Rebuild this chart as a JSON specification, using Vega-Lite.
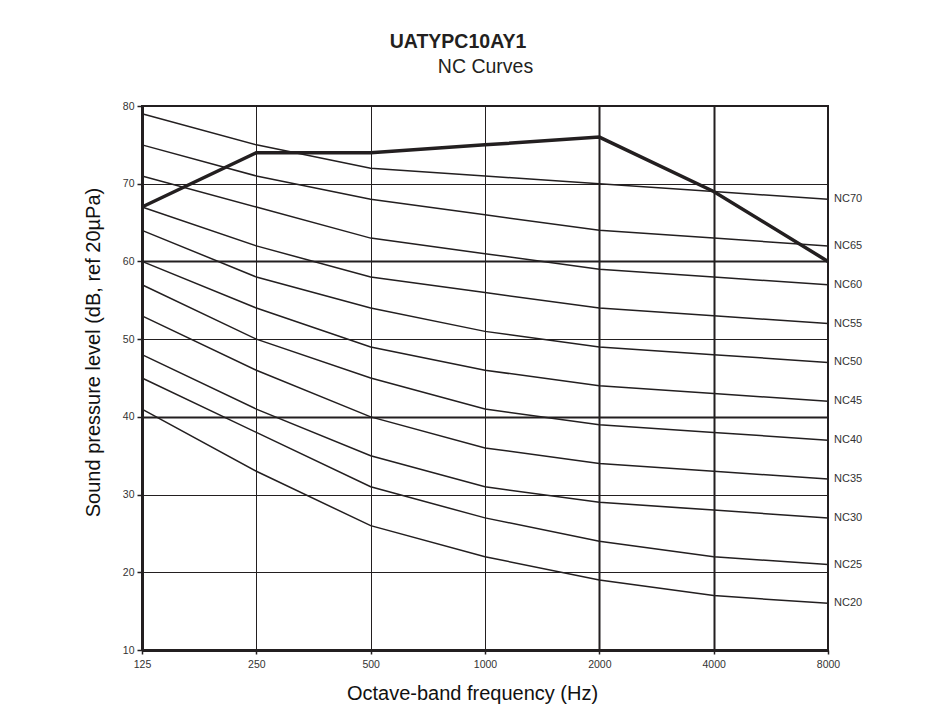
{
  "$schema": "https://vega.github.io/schema/vega-lite/v6.json",
  "width": 686,
  "height": 544,
  "autosize": "none",
  "padding": {"left": 142, "top": 106, "right": 101, "bottom": 72},
  "background": "white",
  "config": {
    "font": "Liberation Sans",
    "view": {"stroke": "#231f20", "strokeWidth": 2}
  },
  "title": {
    "text": "UATYPC10AY1",
    "anchor": "middle",
    "frame": "group",
    "dx": -27,
    "font": "Liberation Sans",
    "fontSize": 19.5,
    "fontWeight": "bold",
    "color": "#231f20",
    "offset": 4
  },
  "resolve": {"axis": {"x": "independent"}},
  "datasets": {
    "nc": [
      {"curve": "NC70", "freq": 125, "spl": 79}, {"curve": "NC70", "freq": 250, "spl": 75}, {"curve": "NC70", "freq": 500, "spl": 72}, {"curve": "NC70", "freq": 1000, "spl": 71}, {"curve": "NC70", "freq": 2000, "spl": 70}, {"curve": "NC70", "freq": 4000, "spl": 69}, {"curve": "NC70", "freq": 8000, "spl": 68},
      {"curve": "NC65", "freq": 125, "spl": 75}, {"curve": "NC65", "freq": 250, "spl": 71}, {"curve": "NC65", "freq": 500, "spl": 68}, {"curve": "NC65", "freq": 1000, "spl": 66}, {"curve": "NC65", "freq": 2000, "spl": 64}, {"curve": "NC65", "freq": 4000, "spl": 63}, {"curve": "NC65", "freq": 8000, "spl": 62},
      {"curve": "NC60", "freq": 125, "spl": 71}, {"curve": "NC60", "freq": 250, "spl": 67}, {"curve": "NC60", "freq": 500, "spl": 63}, {"curve": "NC60", "freq": 1000, "spl": 61}, {"curve": "NC60", "freq": 2000, "spl": 59}, {"curve": "NC60", "freq": 4000, "spl": 58}, {"curve": "NC60", "freq": 8000, "spl": 57},
      {"curve": "NC55", "freq": 125, "spl": 67}, {"curve": "NC55", "freq": 250, "spl": 62}, {"curve": "NC55", "freq": 500, "spl": 58}, {"curve": "NC55", "freq": 1000, "spl": 56}, {"curve": "NC55", "freq": 2000, "spl": 54}, {"curve": "NC55", "freq": 4000, "spl": 53}, {"curve": "NC55", "freq": 8000, "spl": 52},
      {"curve": "NC50", "freq": 125, "spl": 64}, {"curve": "NC50", "freq": 250, "spl": 58}, {"curve": "NC50", "freq": 500, "spl": 54}, {"curve": "NC50", "freq": 1000, "spl": 51}, {"curve": "NC50", "freq": 2000, "spl": 49}, {"curve": "NC50", "freq": 4000, "spl": 48}, {"curve": "NC50", "freq": 8000, "spl": 47},
      {"curve": "NC45", "freq": 125, "spl": 60}, {"curve": "NC45", "freq": 250, "spl": 54}, {"curve": "NC45", "freq": 500, "spl": 49}, {"curve": "NC45", "freq": 1000, "spl": 46}, {"curve": "NC45", "freq": 2000, "spl": 44}, {"curve": "NC45", "freq": 4000, "spl": 43}, {"curve": "NC45", "freq": 8000, "spl": 42},
      {"curve": "NC40", "freq": 125, "spl": 57}, {"curve": "NC40", "freq": 250, "spl": 50}, {"curve": "NC40", "freq": 500, "spl": 45}, {"curve": "NC40", "freq": 1000, "spl": 41}, {"curve": "NC40", "freq": 2000, "spl": 39}, {"curve": "NC40", "freq": 4000, "spl": 38}, {"curve": "NC40", "freq": 8000, "spl": 37},
      {"curve": "NC35", "freq": 125, "spl": 53}, {"curve": "NC35", "freq": 250, "spl": 46}, {"curve": "NC35", "freq": 500, "spl": 40}, {"curve": "NC35", "freq": 1000, "spl": 36}, {"curve": "NC35", "freq": 2000, "spl": 34}, {"curve": "NC35", "freq": 4000, "spl": 33}, {"curve": "NC35", "freq": 8000, "spl": 32},
      {"curve": "NC30", "freq": 125, "spl": 48}, {"curve": "NC30", "freq": 250, "spl": 41}, {"curve": "NC30", "freq": 500, "spl": 35}, {"curve": "NC30", "freq": 1000, "spl": 31}, {"curve": "NC30", "freq": 2000, "spl": 29}, {"curve": "NC30", "freq": 4000, "spl": 28}, {"curve": "NC30", "freq": 8000, "spl": 27},
      {"curve": "NC25", "freq": 125, "spl": 45}, {"curve": "NC25", "freq": 250, "spl": 38}, {"curve": "NC25", "freq": 500, "spl": 31}, {"curve": "NC25", "freq": 1000, "spl": 27}, {"curve": "NC25", "freq": 2000, "spl": 24}, {"curve": "NC25", "freq": 4000, "spl": 22}, {"curve": "NC25", "freq": 8000, "spl": 21},
      {"curve": "NC20", "freq": 125, "spl": 41}, {"curve": "NC20", "freq": 250, "spl": 33}, {"curve": "NC20", "freq": 500, "spl": 26}, {"curve": "NC20", "freq": 1000, "spl": 22}, {"curve": "NC20", "freq": 2000, "spl": 19}, {"curve": "NC20", "freq": 4000, "spl": 17}, {"curve": "NC20", "freq": 8000, "spl": 16}
    ],
    "measured": [
      {"freq": 125, "spl": 67}, {"freq": 250, "spl": 74}, {"freq": 500, "spl": 74}, {"freq": 1000, "spl": 75}, {"freq": 2000, "spl": 76}, {"freq": 4000, "spl": 69}, {"freq": 8000, "spl": 60}
    ]
  },
  "layer": [
    {
      "data": {"name": "nc"},
      "mark": {"type": "line", "strokeWidth": 1.5, "color": "#231f20"},
      "encoding": {
        "x": {
          "field": "freq", "type": "quantitative",
          "scale": {"type": "log", "base": 2, "domain": [125, 8000], "nice": false},
          "axis": {
            "values": [125, 250, 500, 1000, 2000, 4000, 8000],
            "format": "d",
            "grid": true,
            "gridColor": "#231f20",
            "gridOpacity": 1,
            "gridWidth": {"condition": {"test": "datum.value == 2000 || datum.value == 4000", "value": 2}, "value": 1},
            "domainColor": "#231f20",
            "domainWidth": 3,
            "tickColor": "#231f20",
            "tickWidth": 1.5,
            "tickSize": 4,
            "labelFontSize": 10.5,
            "labelColor": "#333333",
            "labelPadding": 5,
            "labelFlush": false,
            "title": "Octave-band frequency (Hz)",
            "titleFontSize": 20,
            "titleFontWeight": "normal",
            "titleColor": "#111111",
            "titlePadding": 14,
            "titleX": 330
          }
        },
        "y": {
          "field": "spl", "type": "quantitative",
          "scale": {"domain": [10, 80], "nice": false, "zero": false},
          "axis": {
            "values": [10, 20, 30, 40, 50, 60, 70, 80],
            "grid": true,
            "gridColor": "#231f20",
            "gridOpacity": 1,
            "gridWidth": {"condition": {"test": "datum.value == 40 || datum.value == 60", "value": 2}, "value": 1},
            "domainColor": "#231f20",
            "domainWidth": 3,
            "tickColor": "#231f20",
            "tickWidth": 1.5,
            "tickSize": 5,
            "labelFontSize": 10.5,
            "labelColor": "#333333",
            "labelPadding": 3,
            "title": "Sound pressure level (dB, ref 20µPa)",
            "titleFontSize": 20,
            "titleFontWeight": "normal",
            "titleColor": "#111111",
            "titlePadding": 19,
            "titleY": 246
          }
        },
        "detail": {"field": "curve"}
      }
    },
    {
      "data": {"name": "nc"},
      "transform": [{"filter": "datum.freq == 8000"}],
      "mark": {"type": "text", "align": "left", "baseline": "middle", "dx": 6, "fontSize": 11, "color": "#333333"},
      "encoding": {
        "x": {"field": "freq", "type": "quantitative", "axis": null},
        "y": {"field": "spl", "type": "quantitative"},
        "text": {"field": "curve"}
      }
    },
    {
      "data": {"name": "measured"},
      "mark": {"type": "line", "strokeWidth": 3.5, "color": "#231f20"},
      "encoding": {
        "x": {
          "field": "freq", "type": "quantitative",
          "axis": {
            "orient": "top",
            "title": "NC Curves",
            "labels": false,
            "ticks": false,
            "domain": false,
            "grid": false,
            "minExtent": 0,
            "titleFontSize": 19.5,
            "titleFontWeight": "normal",
            "titleColor": "#231f20",
            "titlePadding": 30
          }
        },
        "y": {"field": "spl", "type": "quantitative"}
      }
    }
  ]
}
